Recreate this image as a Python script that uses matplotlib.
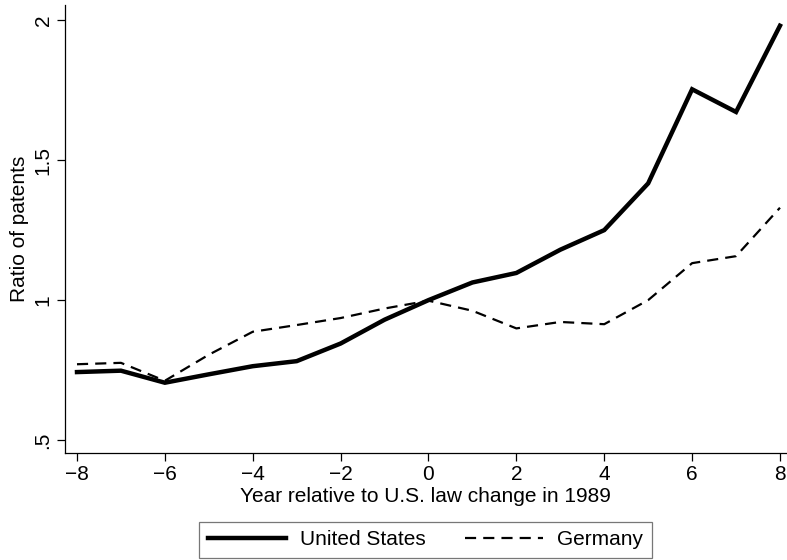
import numpy as np
import matplotlib
matplotlib.use("Agg")
import matplotlib.pyplot as plt

plt.rcParams['font.family'] = ['Liberation Sans', 'DejaVu Sans']

# Years relative to the 1989 law change, and patent ratios (normalised to 1 at year 0)
years = [-8, -7, -6, -5, -4, -3, -2, -1, 0, 1, 2, 3, 4, 5, 6, 7, 8]
us_ratio = [0.743, 0.748, 0.705, 0.735, 0.764, 0.782, 0.845, 0.930, 1.000,
            1.063, 1.097, 1.180, 1.250, 1.417, 1.753, 1.672, 1.980]
de_ratio = [0.771, 0.776, 0.712, 0.805, 0.887, 0.911, 0.936, 0.970, 0.998,
            0.962, 0.899, 0.922, 0.914, 1.000, 1.132, 1.157, 1.330]

x_ticks = [-8, -6, -4, -2, 0, 2, 4, 6, 8]
y_ticks = [0.5, 1.0, 1.5, 2.0]
y_tick_labels = ['.5', '1', '1.5', '2']

FS = 15

fig = plt.figure(figsize=(7.87, 5.6), dpi=100)
ax = fig.add_axes([65 / 787, 107 / 560, 721 / 787, 448 / 560])

ax.plot(years, us_ratio, color='black', linewidth=3.2, solid_joinstyle='miter',
        label='United States')
ax.plot(years, de_ratio, color='black', linewidth=1.6, dashes=(5.0, 3.2),
        label='Germany')

ax.set_xlim(-8.273, 8.137)
ax.set_ylim(0.454, 2.054)
ax.set_xticks(x_ticks)
ax.set_xticklabels([str(v).replace('-', '\u2212') for v in x_ticks])
ax.set_yticks(y_ticks)
ax.set_yticklabels(y_tick_labels, rotation=90, va='center')

for side in ('top', 'right'):
    ax.spines[side].set_visible(False)
for side in ('left', 'bottom'):
    ax.spines[side].set_linewidth(0.9)

ax.tick_params(direction='out', length=6, width=0.9, labelsize=FS, pad=3)
ax.set_xlabel('Year relative to U.S. law change in 1989', fontsize=FS, labelpad=2)
ax.set_ylabel('Ratio of patents', fontsize=FS, labelpad=3)

leg = ax.legend(loc='upper center', bbox_to_anchor=(0.5, -0.154), ncol=2,
                borderaxespad=0, frameon=True, fancybox=False, fontsize=FS,
                handlelength=3.75, columnspacing=1.9, borderpad=0.4,
                handletextpad=0.67)
leg.get_frame().set_edgecolor('#555555')
leg.get_frame().set_linewidth(0.9)

fig.savefig('out.png', dpi=100)
